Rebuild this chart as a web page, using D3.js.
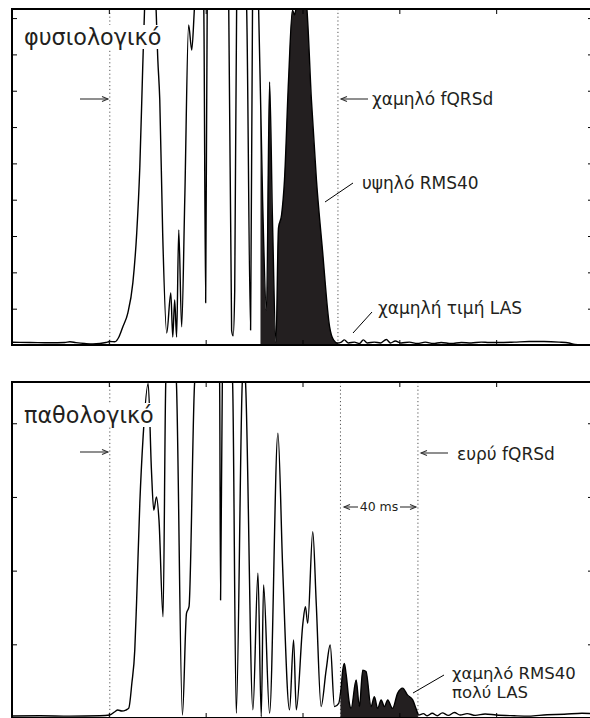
<!DOCTYPE html>
<html><head><meta charset="utf-8">
<script src="https://cdn.jsdelivr.net/npm/d3@7"></script>
<style>
html,body{margin:0;padding:0;background:#fff;}
svg{display:block;font-family:"DejaVu Sans","Liberation Sans",Arial,sans-serif;}
</style>
</head><body>
<script>
// ---------------- DATA ----------------
// time axis (ms)
const xTicks = [0, 50, 100, 150, 200, 250, 300];
const topYTicks = [10, 20, 30, 40, 50, 60, 70, 80, 90];
const botYTicks = [20, 40, 60, 80];

// normal (φυσιολογικό) filtered QRS vector magnitude
const normalMs = [0,9.3,19.6,27.3,29.9,33,37.6,41.8,45.4,48.5,
50.5,53.1,55.2,57.2,59.8,62.4,64.4,66,67.5,68.6,
70.5,74.2,75.3,76.3,77.8,79.9,82,83,84,85,
86.1,87.6,89.2,91.2,92.8,94.3,96.9,99,100,100.8,
106.2,111.9,113.4,114.2,115,116,118.6,121.1,123.2,124.2,
125.8,127.3,129.4,131.4,133,134.5,136.3,137.6,139.2,140.7,
142.8,144.8,145.9,146.9,149.5,152.1,154.6,157.2,160.3,164,
166,168,170.1,171.6,173.7,176.8,179.4,181.4,183.5,187.1,
190.2,193.3,195.4,197.9,201,205.2,209.3,213.4,217.5,221.6,
226.8,232,237.1,242.3,246.4,251.5,259.3,267,274.7,282.5,
287.6,290.7,300];
const normalUv = [0.74,0.69,0.6,0.69,0.88,0.66,0.41,0.28,0.41,0.69,
0.96,0.88,2.2,4.96,8.8,17.1,30.8,49,76.5,95,
115,95,78.5,67.5,30.8,3.3,14.3,2.2,12.4,2.2,
31.7,5,39.9,88.1,81.2,93.6,110,93.6,11.6,93.6,
115,93.6,4,2.5,15,93.6,110,93.6,4.1,93.6,
105,93.6,39.9,9.6,72.4,34.4,0.8,32.2,35.8,45.4,
73,92.2,90.9,93.6,100,93.6,67.5,45.4,26.2,5,
1.4,0.55,0.8,1.4,0.55,0.8,0.4,1.4,0.55,0.8,
0.55,1.5,0.55,1.1,0.55,0.8,0.4,0.8,0.4,0.7,
0.4,0.7,0.55,0.8,0.7,0.7,0.8,0.96,0.96,0.8,
0.55,0.14,0];

// abnormal (παθολογικό)
const abnormalMs = [0,14.4,29.9,45.4,50.5,53.1,54.6,56.7,58.8,60.3,
61.9,63.4,64.3,66,67.7,70.3,72,73.2,74.6,75.9,
78,79.4,82,84.9,88,90.1,91.4,94.3,100.5,107.2,
107.7,108.6,111.3,113.9,115.8,118.9,119.8,120.6,124.4,127,
128.7,129.9,133,137.3,139.8,143.3,145.4,146.8,150.2,151.5,
152.7,155.3,157.1,159.6,162.2,164.3,166.5,168.7,169.9,170.8,
171.6,172.5,174.2,175.1,177.7,179.4,181.1,182.8,185.4,187.1,
188.8,190.6,192.3,194,196.5,199.1,201.7,204.3,206.9,208.6,
210,212.4,214.4,217,219.6,222.2,225.3,228.4,231.4,235,
239.2,244.3,250,259.3,267,276.3,285.1,294.3,300];
const abnormalUv = [0.54,0.6,0.5,0.6,0.81,1.7,2.17,1.9,2.17,2.7,
9.5,18.5,31.1,58.3,76.3,90.8,67.3,56.4,60,53.7,
27.5,91,110,91,0.8,28.4,30.2,91,115,91,
32,91,105,91,1.3,91,97,91,2.2,39.3,
0.35,36.1,1.3,77.3,40.2,2.2,21.2,2.2,25.7,30.2,
25.7,50.6,31.1,3.1,13,19.8,3.1,4,8,13,
14.8,12,4,2.6,10.3,3.1,13,12.6,3.1,5.8,
2.6,4.9,3.1,4.9,2.6,6.7,8.1,6.2,4.9,2.6,
0.8,1.2,0.6,1.3,0.6,1.4,0.7,1.5,0.8,1.2,
0.7,1.1,0.8,0.6,0.5,0.9,1.0,1.3,1.2];

// QRS onset / offset markers (ms)
const normalMarkers = [50.5, 168.3];
const normalRms = [128.3, 168.3];
const abnormalMarkers = [50.5, 169.6, 209.6];
const abnormalRms = [169.6, 209.6];

// ---------------- DRAW ----------------
const W = 590, H = 718;
const INK = "#231f20";
const svg = d3.select("body").append("svg").attr("width", W).attr("height", H);
const x = d3.scaleLinear().domain([0, 300]).range([12, 593]);

let clipId = 0;
function panel(cfg) {
  const g = svg.append("g");
  const y = d3.scaleLinear().domain([0, cfg.yMax]).range([cfg.bottom, cfg.top]);
  const pts = cfg.ms.map((m, i) => [m, cfg.uv[i]]);

  const cp = "clip" + (clipId++);
  svg.append("clipPath").attr("id", cp).append("rect")
    .attr("x", 12).attr("y", cfg.top).attr("width", 581).attr("height", cfg.bottom - cfg.top);
  const cf = "clip" + (clipId++);
  svg.append("clipPath").attr("id", cf).append("rect")
    .attr("x", x(cfg.rms[0])).attr("y", cfg.top)
    .attr("width", x(cfg.rms[1]) - x(cfg.rms[0])).attr("height", cfg.bottom - cfg.top);

  const area = d3.area().x(d => x(d[0])).y0(y(0)).y1(d => y(d[1])).curve(d3.curveMonotoneX);
  const line = d3.line().x(d => x(d[0])).y(d => y(d[1])).curve(d3.curveMonotoneX);

  // dotted markers
  g.selectAll(".mk").data(cfg.markers).join("line")
    .attr("x1", d => x(d)).attr("x2", d => x(d))
    .attr("y1", cfg.top).attr("y2", cfg.bottom)
    .attr("stroke", "#555").attr("stroke-width", 1).attr("stroke-dasharray", "1.2,2.6");

  const inner = g.append("g").attr("clip-path", `url(#${cp})`);
  inner.append("g").attr("clip-path", `url(#${cf})`)
    .append("path").datum(pts).attr("d", area).attr("fill", INK);
  inner.append("path").datum(pts).attr("d", line)
    .attr("fill", "none").attr("stroke", "#000").attr("stroke-width", 1.4).attr("stroke-linejoin", "round");

  // ticks
  const tk = (axis, tx, ty) => {
    const a = g.append("g").attr("transform", `translate(${tx},${ty})`).call(axis);
    a.select(".domain").remove();
    a.selectAll("line").attr("stroke", "#000").attr("stroke-width", 1);
    a.selectAll("text").remove();
  };
  tk(d3.axisRight(y).tickValues(cfg.yTicks).tickSize(5).tickFormat(""), 12, 0);
  tk(d3.axisLeft(y).tickValues(cfg.yTicks).tickSize(5).tickFormat(""), 593, 0);
  tk(d3.axisBottom(x).tickValues(xTicks).tickSize(5).tickFormat(""), 0, cfg.top);
  tk(d3.axisTop(x).tickValues(xTicks).tickSize(5).tickFormat(""), 0, cfg.bottom);

  // frame
  const fr = g.append("g").attr("stroke", "#000").attr("stroke-width", 2).attr("fill", "none");
  fr.append("rect").attr("x", 12).attr("y", cfg.top).attr("width", 581).attr("height", cfg.bottom - cfg.top);

  // panel label with white background
  const lg = g.append("g");
  const bg = lg.append("rect").attr("fill", "#fff");
  const t = lg.append("text").attr("x", 24).attr("y", cfg.labelY)
    .attr("font-size", 22.3).attr("fill", INK).text(cfg.label);
  const bb = t.node().getBBox();
  bg.attr("x", bb.x - 2).attr("y", bb.y + 1).attr("width", bb.width + 4).attr("height", bb.height - 2);
  return {g, y};
}

function arrow(x1, y1, x2) {
  const dir = x2 > x1 ? 1 : -1;
  const a = svg.append("g").attr("stroke", "#333").attr("stroke-width", 1.1).attr("fill", "none");
  a.append("line").attr("x1", x1).attr("y1", y1).attr("x2", x2).attr("y2", y1);
  a.append("path").attr("d", `M${x2 - dir * 6},${y1 - 2.6}L${x2},${y1}L${x2 - dir * 6},${y1 + 2.6}`);
}
function label(tx, ty, s, size) {
  svg.append("text").attr("x", tx).attr("y", ty).attr("font-size", size || 17)
    .attr("fill", INK).text(s);
}
function leader(x1, y1, x2, y2) {
  svg.append("line").attr("x1", x1).attr("y1", y1).attr("x2", x2).attr("y2", y2)
    .attr("stroke", "#000").attr("stroke-width", 1);
}

// top panel
panel({top: 9, bottom: 345, yMax: 92.5, ms: normalMs, uv: normalUv, yTicks: topYTicks,
  markers: normalMarkers, rms: normalRms, label: "φυσιολογικό", labelY: 45});
// bottom panel
panel({top: 382, bottom: 718, yMax: 91.2, ms: abnormalMs, uv: abnormalUv, yTicks: botYTicks,
  markers: abnormalMarkers, rms: abnormalRms, label: "παθολογικό", labelY: 423});

// annotations – top
arrow(80, 99, 108);
arrow(368, 99, 341);
label(372, 105, "χαμηλό fQRSd");
leader(325, 202, 353, 183);
label(362, 188.5, "υψηλό RMS40");
leader(353, 333, 372, 312);
label(378, 313.5, "χαμηλή τιμή LAS");

// annotations – bottom
arrow(80, 452, 108);
arrow(448, 453, 421);
label(457, 459.5, "ευρύ fQRSd");
arrow(358, 507, 344);
arrow(400, 507, 416);
svg.append("text").attr("x", 379).attr("y", 511).attr("text-anchor", "middle")
  .attr("font-size", 12.5).attr("fill", INK).text("40 ms");
leader(413, 693, 444, 675);
label(452, 678.5, "χαμηλό RMS40", 16.5);
label(452, 697.5, "πολύ LAS", 16.5);
</script>
</body></html>
